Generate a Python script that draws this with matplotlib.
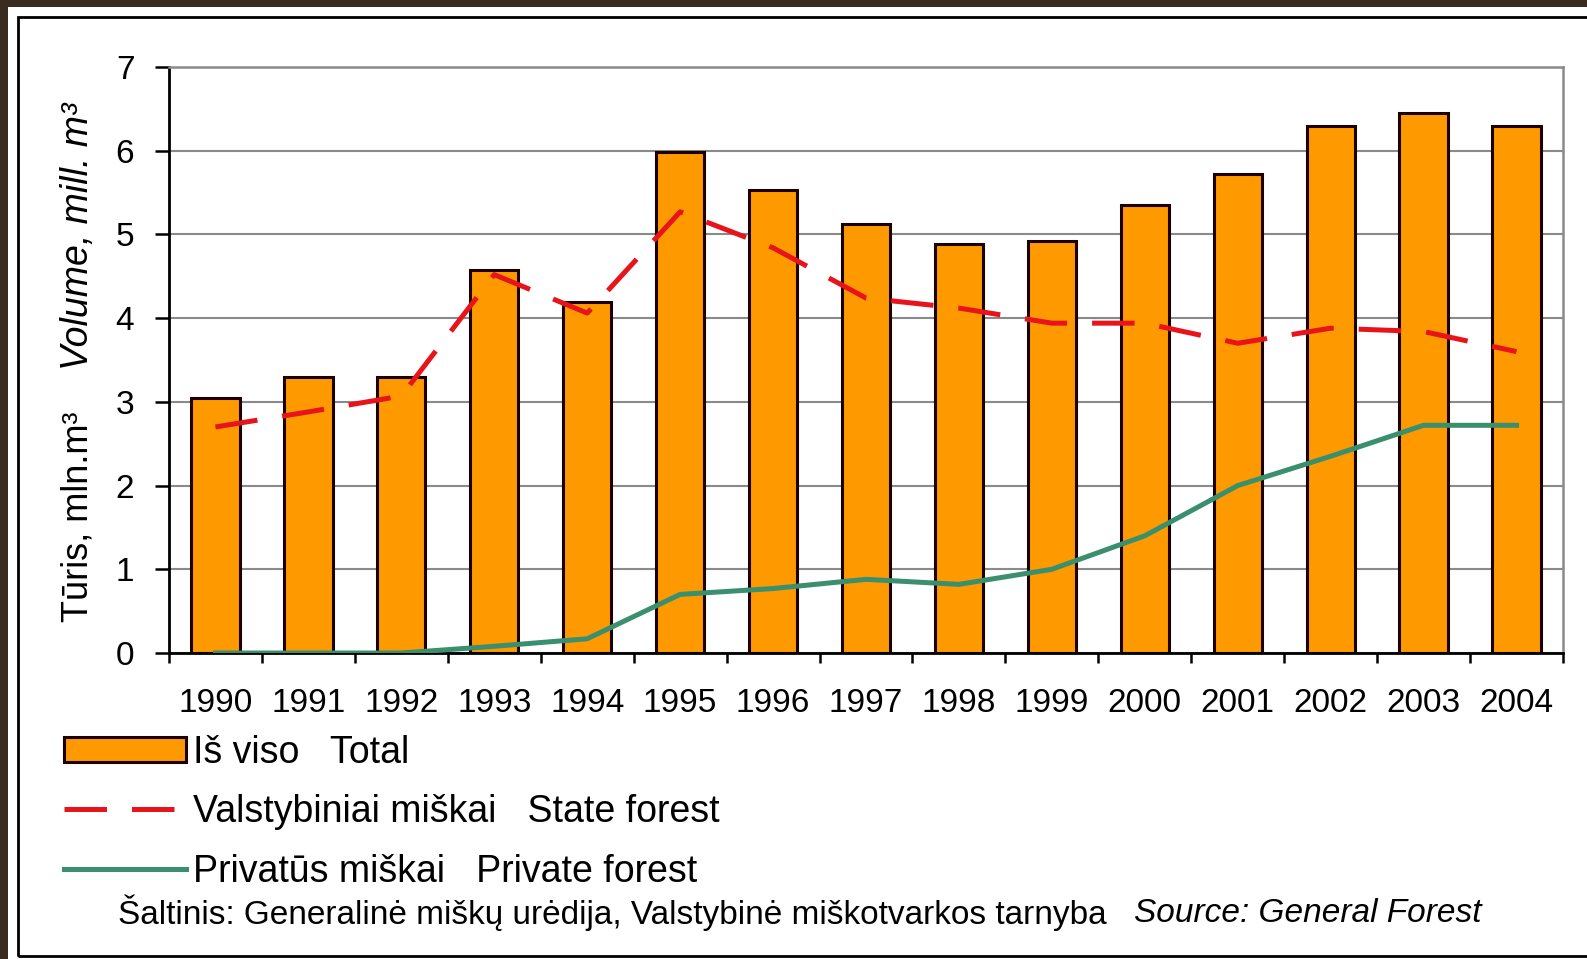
import numpy as np
import matplotlib.pyplot as plt
from matplotlib.patches import Rectangle

plt.rcParams['font.family'] = ['Liberation Sans', 'DejaVu Sans']

years = ["1990", "1991", "1992", "1993", "1994", "1995", "1996", "1997",
         "1998", "1999", "2000", "2001", "2002", "2003", "2004"]
total = [3.05, 3.30, 3.30, 4.58, 4.19, 5.98, 5.53, 5.13, 4.88, 4.92, 5.35, 5.72, 6.30, 6.45, 6.30]
state = [2.70, 2.88, 3.07, 4.52, 4.06, 5.27, 4.84, 4.24, 4.12, 3.94, 3.94, 3.70, 3.88, 3.84, 3.60]
private = [0.0, 0.0, 0.0, 0.08, 0.17, 0.70, 0.77, 0.88, 0.82, 1.00, 1.40, 2.00, 2.35, 2.72, 2.72]

W, H = 1587, 959
fig = plt.figure(figsize=(W / 100, H / 100), dpi=100)
fig.patch.set_facecolor("#3b2a1e")

# white panel and black frame
fig.add_artist(Rectangle((8 / W, 0), 1, 1 - 7 / H, transform=fig.transFigure,
                         facecolor="white", edgecolor="none", zorder=0))
fig.add_artist(Rectangle((18 / W, 1 - 956 / H), 1, (956 - 17) / H, transform=fig.transFigure,
                         facecolor="none", edgecolor="black", linewidth=2, zorder=1))

ax = fig.add_axes([169 / W, 1 - 653 / H, (1563 - 169) / W, (653 - 67) / H])
x = np.arange(len(years))

bars = ax.bar(x, total, width=0.52, color="#FF9900", edgecolor="#1a0000", linewidth=2.2,
              zorder=2, label="Iš viso   Total")
l_state, = ax.plot(x, state, color="#E8141B", linewidth=3.6, dashes=(8.5, 5),
                   dash_capstyle="butt", zorder=3, label="Valstybiniai miškai   State forest")
l_priv, = ax.plot(x, private, color="#3A8F6E", linewidth=3.6, zorder=3,
                  label="Privatūs miškai   Private forest")

ax.set_xlim(-0.5, len(years) - 0.5)
ax.set_ylim(0, 7)
ax.set_yticks(range(8))
ax.yaxis.grid(True, color="#8a8a8a", linewidth=1.5)
ax.set_axisbelow(True)

ax.set_xticks(x)
ax.set_xticklabels(years, fontsize=24)
ax.set_xticks(np.arange(len(years) + 1) - 0.5, minor=True)
ax.tick_params(axis="x", which="major", length=0, pad=25)
ax.tick_params(axis="x", which="minor", length=7, width=1.8, direction="out")
ax.tick_params(axis="y", labelsize=24, length=10, width=1.8, pad=15)

for s in ["top", "right"]:
    ax.spines[s].set_color("#8a8a8a")
    ax.spines[s].set_linewidth(1.8)
for s in ["left", "bottom"]:
    ax.spines[s].set_color("black")
    ax.spines[s].set_linewidth(2)

# y label in two parts
fig.text(78 / W, 1 - 622 / H, "Tūris, mln.m³", rotation=90, fontsize=26,
         ha="center", va="bottom")
fig.text(78 / W, 1 - 370 / H, "Volume, mill. m³", rotation=90, fontsize=27,
         style="italic", ha="center", va="bottom")

fig.legend(handles=[bars, l_state, l_priv], loc="upper left",
           bbox_to_anchor=(64 / W, 1 - 735 / H), frameon=False, fontsize=27,
           handlelength=3.25, handleheight=0.65, handletextpad=0.2,
           labelspacing=0.62, borderaxespad=0, borderpad=0)

fig.text(118 / W, 1 - 913 / H,
         "Šaltinis: Generalinė miškų urėdija, Valstybinė miškotvarkos tarnyba   ",
         fontsize=24, ha="left", va="center")
fig.canvas.draw()
bb = fig.texts[-1].get_window_extent()
fig.text(bb.x1 / W, 1 - 913 / H, "Source: General Forest", fontsize=24,
         style="italic", ha="left", va="center")

fig.savefig("out.png", dpi=100, facecolor=fig.get_facecolor())
